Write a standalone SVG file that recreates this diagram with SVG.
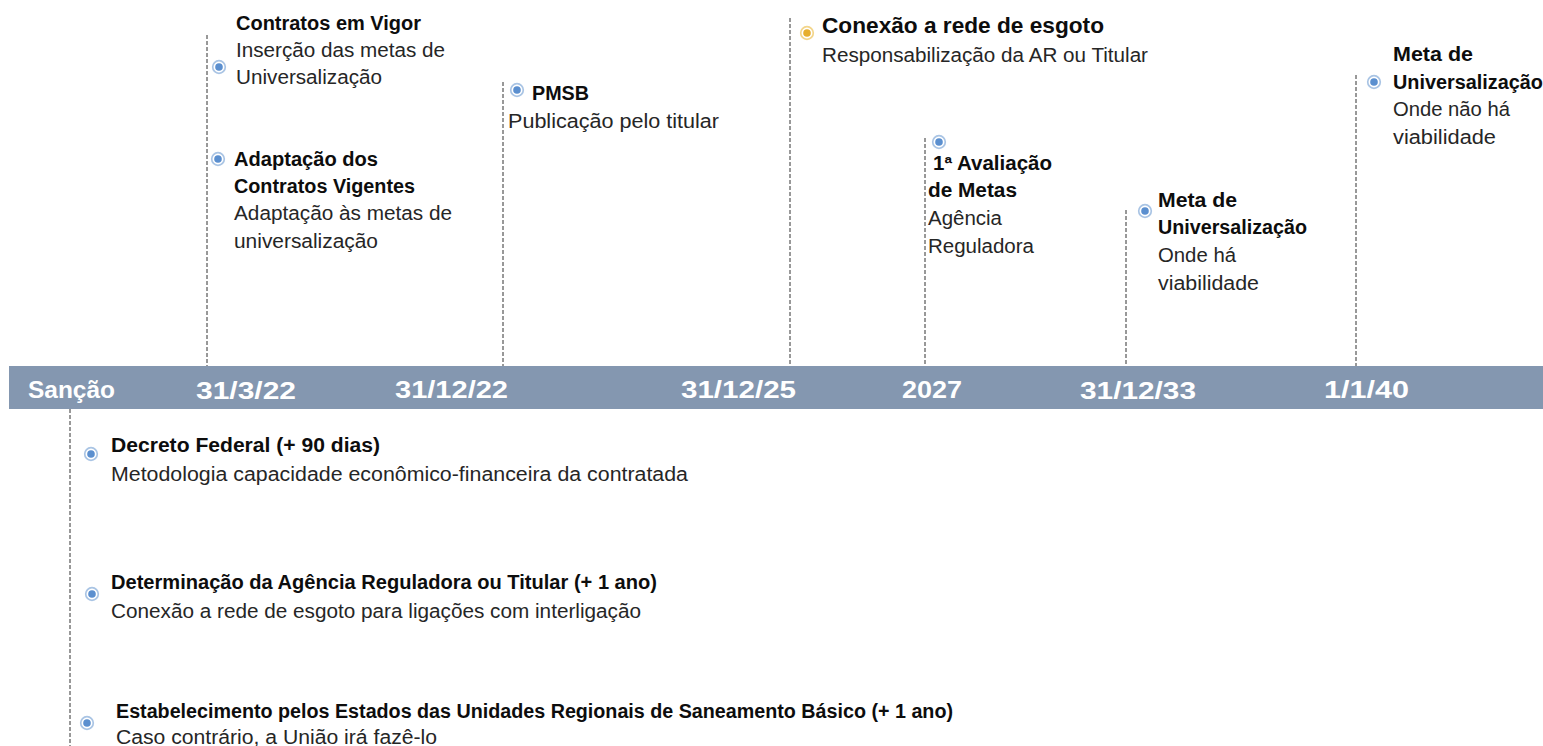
<svg xmlns="http://www.w3.org/2000/svg" width="1543" height="746" viewBox="0 0 1543 746">
<defs>
<style>
.t{font-family:"Liberation Sans",Arial,sans-serif;font-size:20px;fill:#262626}
.b{font-weight:bold;fill:#0d0d0d;font-size:19.5px}
.big{font-size:22.5px}
.d{font-family:"Liberation Sans",Arial,sans-serif;font-size:24px;font-weight:bold;fill:#ffffff}
.v{stroke:#333;stroke-width:1;stroke-dasharray:4,2;fill:none}
</style>
<g id="mk">
<circle r="6.3" fill="#ffffff" stroke="#a9c4e4" stroke-width="1.7"/>
<circle r="3.8" fill="#5b8fcf"/>
</g>
<g id="mko">
<circle r="6.3" fill="#ffffff" stroke="#f3d58a" stroke-width="1.7"/>
<circle r="3.8" fill="#e6ae2e"/>
</g>
</defs>
<rect width="1543" height="746" fill="#ffffff"/>
<g id="timeline">
<rect x="9" y="366" width="1534" height="43" fill="#8497b0"/>
<text class="d" x="28" y="398" textLength="87" lengthAdjust="spacingAndGlyphs">Sanção</text>
<text class="d" x="196" y="399" textLength="100" lengthAdjust="spacingAndGlyphs">31/3/22</text>
<text class="d" x="395" y="398" textLength="113" lengthAdjust="spacingAndGlyphs">31/12/22</text>
<text class="d" x="681" y="398" textLength="115" lengthAdjust="spacingAndGlyphs">31/12/25</text>
<text class="d" x="902" y="398" textLength="60" lengthAdjust="spacingAndGlyphs">2027</text>
<text class="d" x="1080" y="399" textLength="116" lengthAdjust="spacingAndGlyphs">31/12/33</text>
<text class="d" x="1324" y="398" textLength="85" lengthAdjust="spacingAndGlyphs">1/1/40</text>
</g>
<g id="connectors">
<line class="v" x1="207" y1="35" x2="207" y2="366"/>
<line class="v" x1="503" y1="82" x2="503" y2="366"/>
<line class="v" x1="790" y1="18" x2="790" y2="366"/>
<line class="v" x1="925" y1="138" x2="925" y2="366"/>
<line class="v" x1="1126" y1="210" x2="1126" y2="366"/>
<line class="v" x1="1356" y1="75" x2="1356" y2="366"/>
<line class="v" x1="70" y1="409" x2="70" y2="746"/>
</g>
<g id="n-contratos">
<use href="#mk" x="219" y="67"/>
<text class="t b" x="236" y="30" textLength="185" lengthAdjust="spacingAndGlyphs">Contratos em Vigor</text>
<text class="t" x="236" y="57" textLength="209" lengthAdjust="spacingAndGlyphs">Inserção das metas de</text>
<text class="t" x="236" y="84" textLength="146" lengthAdjust="spacingAndGlyphs">Universalização</text>
</g>
<g id="n-adaptacao">
<use href="#mk" x="218" y="159"/>
<text class="t b" x="234" y="166" textLength="144" lengthAdjust="spacingAndGlyphs">Adaptação dos</text>
<text class="t b" x="234" y="193" textLength="181" lengthAdjust="spacingAndGlyphs">Contratos Vigentes</text>
<text class="t" x="234" y="220" textLength="218" lengthAdjust="spacingAndGlyphs">Adaptação às metas de</text>
<text class="t" x="234" y="248" textLength="144" lengthAdjust="spacingAndGlyphs">universalização</text>
</g>
<g id="n-pmsb">
<use href="#mk" x="517" y="90"/>
<text class="t b" x="532" y="100" textLength="57" lengthAdjust="spacingAndGlyphs">PMSB</text>
<text class="t" x="508" y="128" textLength="211" lengthAdjust="spacingAndGlyphs">Publicação pelo titular</text>
</g>
<g id="n-conexao">
<use href="#mko" x="807" y="33"/>
<text class="t b big" x="822" y="33" textLength="282" lengthAdjust="spacingAndGlyphs">Conexão a rede de esgoto</text>
<text class="t" x="822" y="62" textLength="326" lengthAdjust="spacingAndGlyphs">Responsabilização da AR ou Titular</text>
</g>
<g id="n-avaliacao">
<use href="#mk" x="939" y="142"/>
<text class="t b" x="933" y="170" textLength="119" lengthAdjust="spacingAndGlyphs">1ª Avaliação</text>
<text class="t b" x="928" y="197" textLength="89" lengthAdjust="spacingAndGlyphs">de Metas</text>
<text class="t" x="928" y="225" textLength="74" lengthAdjust="spacingAndGlyphs">Agência</text>
<text class="t" x="928" y="253" textLength="106" lengthAdjust="spacingAndGlyphs">Reguladora</text>
</g>
<g id="n-meta1">
<use href="#mk" x="1145" y="211"/>
<text class="t b" x="1158" y="207" textLength="79" lengthAdjust="spacingAndGlyphs">Meta de</text>
<text class="t b" x="1158" y="234" textLength="149" lengthAdjust="spacingAndGlyphs">Universalização</text>
<text class="t" x="1158" y="262" textLength="78" lengthAdjust="spacingAndGlyphs">Onde há</text>
<text class="t" x="1158" y="290" textLength="101" lengthAdjust="spacingAndGlyphs">viabilidade</text>
</g>
<g id="n-meta2">
<use href="#mk" x="1374" y="82"/>
<text class="t b" x="1393" y="61" textLength="80" lengthAdjust="spacingAndGlyphs">Meta de</text>
<text class="t b" x="1393" y="89" textLength="150" lengthAdjust="spacingAndGlyphs">Universalização</text>
<text class="t" x="1393" y="116" textLength="117" lengthAdjust="spacingAndGlyphs">Onde não há</text>
<text class="t" x="1393" y="144" textLength="103" lengthAdjust="spacingAndGlyphs">viabilidade</text>
</g>
<g id="n-decreto">
<use href="#mk" x="91" y="454"/>
<text class="t b" x="111" y="452" textLength="269" lengthAdjust="spacingAndGlyphs">Decreto Federal (+ 90 dias)</text>
<text class="t" x="111" y="481" textLength="577" lengthAdjust="spacingAndGlyphs">Metodologia capacidade econômico-financeira da contratada</text>
</g>
<g id="n-determinacao">
<use href="#mk" x="92" y="594"/>
<text class="t b" x="111" y="589" textLength="546" lengthAdjust="spacingAndGlyphs">Determinação da Agência Reguladora ou Titular (+ 1 ano)</text>
<text class="t" x="111" y="618" textLength="530" lengthAdjust="spacingAndGlyphs">Conexão a rede de esgoto para ligações com interligação</text>
</g>
<g id="n-estabelecimento">
<use href="#mk" x="87" y="723"/>
<text class="t b" x="116" y="718" textLength="837" lengthAdjust="spacingAndGlyphs">Estabelecimento pelos Estados das Unidades Regionais de Saneamento Básico (+ 1 ano)</text>
<text class="t" x="116" y="744" textLength="321" lengthAdjust="spacingAndGlyphs">Caso contrário, a União irá fazê-lo</text>
</g>
</svg>
